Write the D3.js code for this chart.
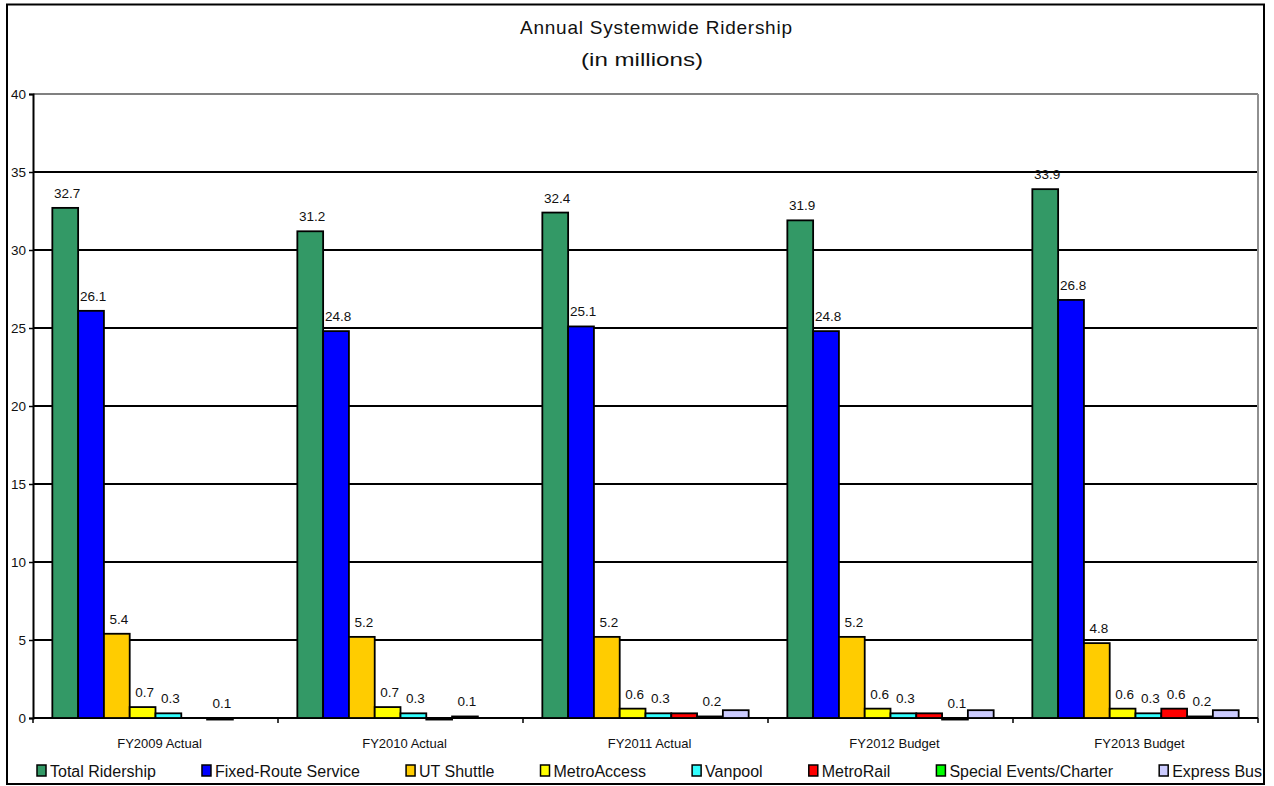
<!DOCTYPE html>
<html>
<head>
<meta charset="utf-8">
<script src="https://cdn.jsdelivr.net/npm/d3@7"></script>
<style>
  html, body { margin: 0; padding: 0; background: #fff; }
  svg { display: block; font-family: "Liberation Sans", Arial, sans-serif; }
</style>
</head>
<body>
<svg id="chart" width="1274" height="786"></svg>
<script>
// ---- data ----
const categories = ["FY2009 Actual", "FY2010 Actual", "FY2011 Actual", "FY2012 Budget", "FY2013 Budget"];
const seriesNames = ["Total Ridership", "Fixed-Route Service", "UT Shuttle", "MetroAccess", "Vanpool", "MetroRail", "Special Events/Charter", "Express Bus"];
const totalRidership = [32.7, 31.2, 32.4, 31.9, 33.9];
const fixedRoute     = [26.1, 24.8, 25.1, 24.8, 26.8];
const utShuttle      = [5.4, 5.2, 5.2, 5.2, 4.8];
const metroAccess    = [0.7, 0.7, 0.6, 0.6, 0.6];
const vanpool        = [0.3, 0.3, 0.3, 0.3, 0.3];
const metroRail      = [null, -0.1, 0.3, 0.3, 0.6];
const specialEvents  = [-0.1, 0.1, 0.1, -0.1, 0.1];
const expressBus     = [null, null, 0.5, 0.5, 0.5];
// data labels as printed on the chart (null = no label)
const metroRailLabels     = [null, null, null, null, "0.6"];
const specialEventsLabels = ["0.1", "0.1", "0.2", "0.1", "0.2"];
const expressBusLabels    = [null, null, null, null, null];
const yTicks = [0, 5, 10, 15, 20, 25, 30, 35, 40];
const seriesColors = ["#339966", "#0000FF", "#FFCC00", "#FFFF00", "#33FFFF", "#FF0000", "#00FF00", "#CCCCFF"];

(function () {
const fmt = d3.format(".1f");
const autoLabels = arr => arr.map(v => v == null ? null : fmt(v));
const seriesValues = [totalRidership, fixedRoute, utShuttle, metroAccess, vanpool, metroRail, specialEvents, expressBus];
const seriesLabels = [autoLabels(totalRidership), autoLabels(fixedRoute), autoLabels(utShuttle),
  autoLabels(metroAccess), autoLabels(vanpool), metroRailLabels, specialEventsLabels, expressBusLabels];

// ---- layout ----
const svg = d3.select("#chart");
const pLeft = 33, pRight = 1258, pTop = 94, pBottom = 718;

// outer frame
svg.append("rect").attr("x", 7).attr("y", 4.5).attr("width", 1257).attr("height", 779.5)
  .attr("fill", "#fff").attr("stroke", "#000").attr("stroke-width", 2);

// title
svg.append("text").attr("x", 520).attr("y", 34)
  .attr("textLength", 272).attr("lengthAdjust", "spacing")
  .attr("font-size", 19).attr("fill", "#111").text("Annual Systemwide Ridership");
svg.append("text").attr("x", 581).attr("y", 66)
  .attr("textLength", 122).attr("lengthAdjust", "spacingAndGlyphs")
  .attr("font-size", 19).attr("fill", "#111").text("(in millions)");

const x0 = d3.scaleBand().domain(categories).range([pLeft, pRight]).paddingInner(0).paddingOuter(0);
const x1 = d3.scaleBand().domain(seriesNames).range([0, x0.bandwidth()]).paddingInner(0).paddingOuter(0.75);
const y = d3.scaleLinear().domain([0, 40]).range([pBottom, pTop]);

// gridlines
svg.append("g").selectAll("line").data(yTicks.filter(t => t > 0)).join("line")
  .attr("x1", pLeft).attr("x2", pRight)
  .attr("y1", d => y(d)).attr("y2", d => y(d))
  .attr("stroke", d => d === 40 ? "#808080" : "#000").attr("stroke-width", 2);
// right plot border
svg.append("line").attr("x1", pRight).attr("x2", pRight).attr("y1", pTop).attr("y2", pBottom)
  .attr("stroke", "#909090").attr("stroke-width", 2);

// y axis
const yAxis = svg.append("g").attr("transform", `translate(${pLeft},0)`)
  .call(d3.axisLeft(y).tickValues(yTicks).tickSize(4).tickPadding(3).tickFormat(d3.format("d")));
yAxis.select(".domain").attr("stroke", "#000").attr("stroke-width", 2);
yAxis.selectAll(".tick line").attr("stroke", "#000").attr("stroke-width", 1.5);
yAxis.selectAll(".tick text").attr("font-size", 13.5).attr("fill", "#111")
  .attr("font-family", "Liberation Sans, Arial, sans-serif");

// x axis line (drawn under bars)
const xAxisG = svg.append("g").attr("transform", `translate(0,${pBottom})`);
xAxisG.append("line").attr("x1", pLeft).attr("x2", pRight).attr("y1", 0).attr("y2", 0)
  .attr("stroke", "#000").attr("stroke-width", 2);
const boundaries = categories.map(c => x0(c)).concat([pRight]);
xAxisG.selectAll("line.tk").data(boundaries).join("line").attr("class", "tk")
  .attr("x1", d => d).attr("x2", d => d).attr("y1", 0).attr("y2", 5)
  .attr("stroke", "#000").attr("stroke-width", 1.5);
xAxisG.selectAll("text").data(categories).join("text")
  .attr("x", d => x0(d) + x0.bandwidth() / 2 + 4).attr("y", 30)
  .attr("text-anchor", "middle").attr("font-size", 13).attr("fill", "#111")
  .text(d => d);

// bars
const groups = svg.append("g").selectAll("g").data(categories).join("g")
  .attr("transform", d => `translate(${x0(d)},0)`);

groups.each(function (cat, ci) {
  const g = d3.select(this);
  seriesNames.forEach((s, si) => {
    const v = seriesValues[si][ci];
    if (v == null) return;
    g.append("rect")
      .attr("x", x1(s))
      .attr("width", x1.bandwidth())
      .attr("y", Math.min(y(v), y(0)))
      .attr("height", Math.max(0.5, Math.abs(y(v) - y(0))))
      .attr("fill", seriesColors[si])
      .attr("stroke", "#000").attr("stroke-width", 1.8);
  });
});

// data labels
groups.each(function (cat, ci) {
  const g = d3.select(this);
  seriesNames.forEach((s, si) => {
    const lab = seriesLabels[si][ci];
    const v = seriesValues[si][ci];
    if (lab == null || v == null) return;
    g.append("text")
      .attr("x", x1(s) + x1.bandwidth() / 2 + 2)
      .attr("y", Math.min(y(v), y(0)) - 10)
      .attr("text-anchor", "middle").attr("font-size", 13.5).attr("fill", "#111")
      .text(lab);
  });
});

// legend
const legend = svg.append("g");
const items = legend.selectAll("g").data(seriesNames).join("g");
items.append("rect").attr("width", 9).attr("height", 11).attr("y", 765)
  .attr("fill", (d, i) => seriesColors[i]).attr("stroke", "#000").attr("stroke-width", 1.5);
items.append("text").attr("x", 13).attr("y", 777).attr("font-size", 16).attr("fill", "#111").text(d => d);
const widths = [];
items.each(function () { widths.push(13 + d3.select(this).select("text").node().getComputedTextLength()); });
const legStart = 37, legEnd = 1262;
const gap = (legEnd - legStart - d3.sum(widths)) / (widths.length - 1);
let cx = legStart;
items.each(function (d, i) {
  d3.select(this).attr("transform", `translate(${cx},0)`);
  cx += widths[i] + gap;
});
})();
</script>
</body>
</html>
